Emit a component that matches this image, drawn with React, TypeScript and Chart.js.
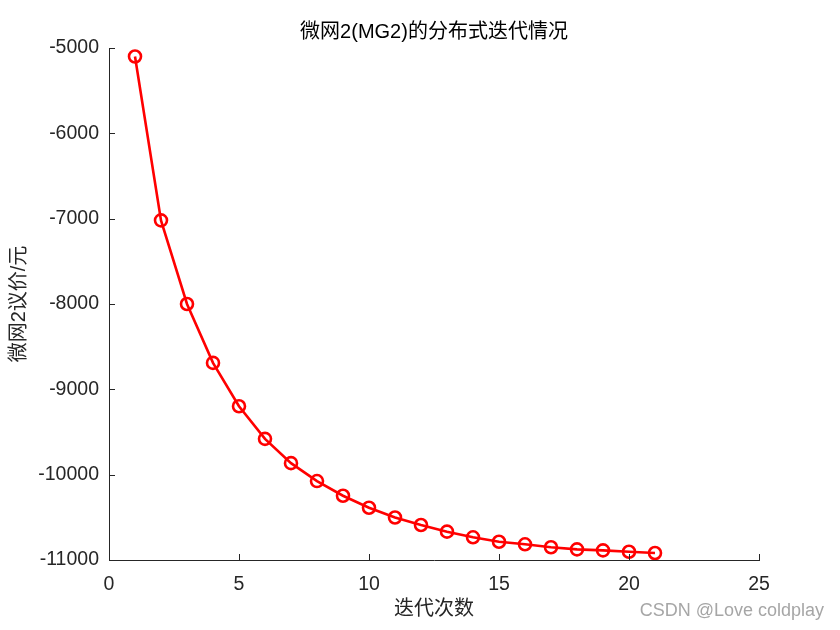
import React, { useEffect, useRef } from "react";
import { Chart, registerables } from "chart.js";

Chart.register(...registerables);

const iterations = [1, 2, 3, 4, 5, 6, 7, 8, 9, 10, 11, 12, 13, 14, 15, 16, 17, 18, 19, 20, 21];
const price = [-5100, -7020, -8000, -8690, -9198, -9580, -9865, -10075, -10247, -10388, -10502, -10590, -10668, -10734, -10786, -10816, -10851, -10875, -10887, -10903, -10918];

const titleText = "微网2(MG2)的分布式迭代情况";
const xTitle = "迭代次数";
const yTitle = "微网2议价/元";
const watermark = "CSDN @Love coldplay";

const FONT = "'Liberation Sans', Arial, 'Noto Sans CJK SC', sans-serif";
const AXIS = "#262626";

const decorPlugin = {
  id: "decor",
  afterDraw(chart: any) {
    const ctx = chart.ctx;
    const { left, right, top, bottom } = chart.chartArea;
    const xs = chart.scales.x;
    const ys = chart.scales.y;
    ctx.save();
    ctx.strokeStyle = AXIS;
    ctx.lineWidth = 1;
    ctx.beginPath();
    for (const t of xs.ticks) {
      const px = Math.round(xs.getPixelForValue(t.value)) + 0.5;
      ctx.moveTo(px, bottom);
      ctx.lineTo(px, bottom - 6);
    }
    for (const t of ys.ticks) {
      const py = Math.round(ys.getPixelForValue(t.value)) + 0.5;
      ctx.moveTo(left, py);
      ctx.lineTo(left + 6, py);
    }
    ctx.stroke();

    ctx.fillStyle = "#000";
    ctx.textAlign = "center";
    ctx.textBaseline = "middle";
    ctx.font = `20px ${FONT}`;
    ctx.fillText(titleText, (left + right) / 2, 32);
    ctx.fillStyle = AXIS;
    ctx.fillText(xTitle, (left + right) / 2, 609);
    ctx.save();
    ctx.translate(19, (top + bottom) / 2);
    ctx.rotate(-Math.PI / 2);
    ctx.fillText(yTitle, 0, 0);
    ctx.restore();

    ctx.fillStyle = "#a6a6a6";
    ctx.textAlign = "right";
    ctx.font = `18px ${FONT}`;
    ctx.fillText(watermark, 824, 611);
    ctx.restore();
  },
};

export default function App() {
  const ref = useRef<HTMLCanvasElement>(null);
  useEffect(() => {
    if (!ref.current) return;
    const chart = new Chart(ref.current, {
      type: "line",
      data: {
        datasets: [
          {
            data: iterations.map((x, i) => ({ x, y: price[i] })),
            borderColor: "#ff0000",
            borderWidth: 2.6,
            pointRadius: 6,
            pointBorderWidth: 2.6,
            pointBackgroundColor: "rgba(0,0,0,0)",
            pointBorderColor: "#ff0000",
            tension: 0,
          },
        ],
      },
      options: {
        animation: false,
        responsive: false,
        devicePixelRatio: 1,
        layout: { padding: { left: 0, top: 48, right: 81, bottom: 0 } },
        plugins: { legend: { display: false }, tooltip: { enabled: false }, title: { display: false } },
        scales: {
          x: {
            type: "linear",
            min: 0,
            max: 25,
            ticks: { stepSize: 5, color: AXIS, font: { family: FONT, size: 19.5 }, padding: 5, maxRotation: 0, callback: (v: any) => String(v) },
            grid: { display: false },
            border: { display: true, color: AXIS, width: 1 },
            afterFit: (s: any) => { s.height = 70; },
          },
          y: {
            type: "linear",
            min: -11000,
            max: -5000,
            ticks: { stepSize: 1000, color: AXIS, font: { family: FONT, size: 19.5 }, padding: 2, callback: (v: any) => String(v) },
            grid: { display: false },
            border: { display: true, color: AXIS, width: 1 },
            afterFit: (s: any) => { s.width = 109; },
          },
        },
      },
      plugins: [decorPlugin],
    });
    return () => chart.destroy();
  }, []);
  return (
    <div style={{ position: "fixed", left: 0, top: 0, width: 840, height: 630, background: "#fff" }}>
      <canvas ref={ref} width={840} height={630} style={{ display: "block" }} />
    </div>
  );
}
